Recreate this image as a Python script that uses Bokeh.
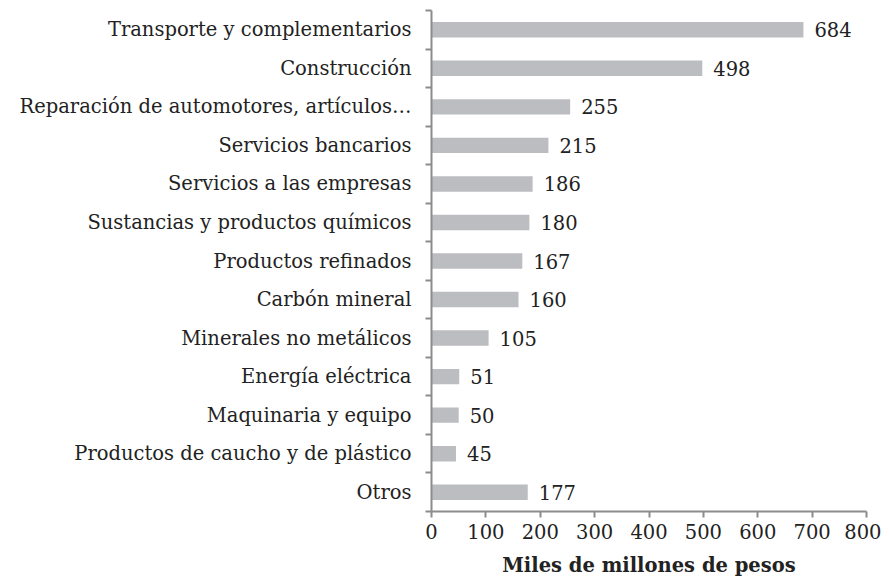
from bokeh.plotting import figure
from bokeh.models import ColumnDataSource, FixedTicker, Range1d
from bokeh.core.properties import value
from bokeh.embed import file_html
from bokeh.resources import INLINE

categories = [
    "Transporte y complementarios",
    "Construcción",
    "Reparación de automotores, artículos…",
    "Servicios bancarios",
    "Servicios a las empresas",
    "Sustancias y productos químicos",
    "Productos refinados",
    "Carbón mineral",
    "Minerales no metálicos",
    "Energía eléctrica",
    "Maquinaria y equipo",
    "Productos de caucho y de plástico",
    "Otros",
]
values = [684, 498, 255, 215, 186, 180, 167, 160, 105, 51, 50, 45, 177]
x_ticks = [0, 100, 200, 300, 400, 500, 600, 700, 800]

FONT = "DejaVu Serif"
FS = "19.5px"
TXT = "#222222"
AXC = "#8c8c8c"

n = len(categories)
ypos = [n - 1 - i for i in range(n)]          # first category at top
src = ColumnDataSource(dict(y=ypos, val=values, lab=[str(v) for v in values]))

p = figure(
    y_range=Range1d(-0.5, n - 0.5),
    x_range=Range1d(0, 800),
    width=881, height=585,
    output_backend="svg", toolbar_location=None,
    min_border_left=431, min_border_right=15, min_border_top=10, min_border_bottom=74,
)
p.hbar(y="y", right="val", height=0.4, source=src, color="#BCBDC1", line_color=None)
p.text(x="val", y="y", text="lab", source=src, x_offset=11,
       text_align="left", text_baseline="middle",
       text_font=value(FONT), text_font_size=FS, text_color=TXT)

p.outline_line_color = None
p.grid.grid_line_color = None
p.background_fill_color = "white"

ax = p.xaxis[0]
ax.ticker = FixedTicker(ticks=x_ticks)
ax.axis_label = "Miles de millones de pesos"
ax.axis_label_text_font = FONT
ax.axis_label_text_font_style = "bold"
ax.axis_label_text_font_size = FS
ax.axis_label_text_color = TXT
ax.axis_label_standoff = 12
ax.major_label_text_font = FONT
ax.major_label_text_font_size = FS
ax.major_label_text_color = TXT
ax.axis_line_color = AXC
ax.axis_line_width = 2
ax.major_tick_line_color = AXC
ax.major_tick_line_width = 2
ax.major_tick_out = 6
ax.major_tick_in = 0
ax.minor_tick_line_color = None
ax.major_label_standoff = 6

ay = p.yaxis[0]
ay.ticker = FixedTicker(ticks=ypos, minor_ticks=[k - 0.5 for k in range(n + 1)])
ay.major_label_overrides = {y: c for y, c in zip(ypos, categories)}
ay.major_label_text_font = FONT
ay.major_label_text_font_size = FS
ay.major_label_text_color = TXT
ay.axis_line_color = AXC
ay.axis_line_width = 2
ay.major_tick_line_color = None
ay.minor_tick_line_color = AXC
ay.minor_tick_line_width = 2
ay.minor_tick_out = 6
ay.minor_tick_in = 0
ay.major_label_standoff = 14

open("out.html", "w").write(file_html(p, INLINE))
